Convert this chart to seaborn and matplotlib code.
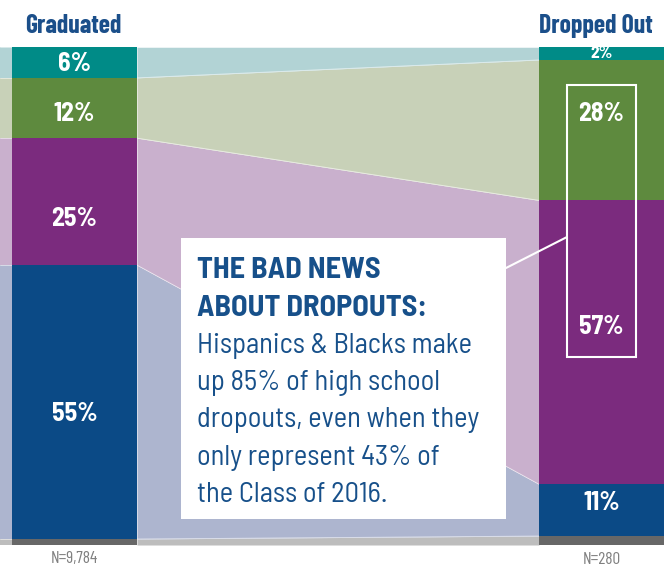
import matplotlib
matplotlib.use("Agg")
import matplotlib.pyplot as plt
from matplotlib.patches import Rectangle
import numpy as np
import seaborn as sns

# data: share of each group, bottom to top (Other, Blue, Purple, Green, Teal)
groups = ["Graduated", "Dropped Out"]
counts = ["N=9,784", "N=280"]
graduated = [1.2, 55.0, 25.5, 12.1, 6.2]
dropped = [1.8, 10.4, 57.0, 28.2, 2.6]
grad_labels = ["", "55%", "25%", "12%", "6%"]
drop_labels = ["", "11%", "57%", "28%", "2%"]

bar_colors = ["#676767", "#0b4a86", "#7b2b7e", "#5e8a3e", "#008b87"]
band_colors = ["#bdbdbd", "#adb5cf", "#c9b0cd", "#c8d1b8", "#b2d3d5"]

# label heights (percent of stack), hand-placed like the original
grad_label_y = [0, 26.3, 65.5, 86.5, 96.6]
drop_label_y = [0, 8.4, 43.8, 86.5, 98.6]

W, H = 669, 571
bar_w = 125 / 527

sns.set_style("white")
plt.rcParams["font.family"] = ["Barlow Semi Condensed", "DejaVu Sans"]

fig = plt.figure(figsize=(W / 100, H / 100), dpi=100)
ax = fig.add_axes([0, 0, 1, 1])

cum_g = np.cumsum(graduated)
cum_d = np.cumsum(dropped)

# stacked bars: draw cumulative totals from the top layer down
for i in range(len(graduated) - 1, -1, -1):
    sns.barplot(x=groups, y=[cum_g[i], cum_d[i]], color=bar_colors[i],
                width=bar_w, saturation=1, linewidth=0, order=groups,
                ax=ax, zorder=3)

# connecting bands
xl, xr = bar_w / 2, 1 - bar_w / 2
x0 = -74.5 / 527
x1 = (W - 74.5) / 527
lo_g = np.concatenate([[0], cum_g[:-1]])
lo_d = np.concatenate([[0], cum_d[:-1]])
for i in range(len(graduated)):
    ax.fill_between([xl, xr], [lo_g[i], lo_d[i]], [cum_g[i], cum_d[i]],
                    color=band_colors[i], linewidth=0, zorder=1)
    ax.fill_between([x0, -xl], [lo_g[i]] * 2, [cum_g[i]] * 2,
                    color=band_colors[i], linewidth=0, zorder=1)
    ax.plot([x0, -xl], [cum_g[i]] * 2, color="white", lw=0.6, alpha=0.6, zorder=2)
    ax.plot([xl, xr], [cum_g[i], cum_d[i]], color="white", lw=0.6, alpha=0.6, zorder=2)

# percent labels
for lab, y in zip(grad_labels, grad_label_y):
    if lab:
        ax.text(0, y, lab, color="white", fontsize=18.5, fontweight="bold",
                ha="center", va="center", zorder=4)
for lab, y in zip(drop_labels, drop_label_y):
    if lab:
        fs = 12.5 if lab == "2%" else 18.5
        ax.text(1, y, lab, color="white", fontsize=fs, fontweight="bold",
                ha="center", va="center", zorder=4)

ax.set_xlim(x0, x1)
ax.set_ylim(-(H - 545) / 4.98, 100 + 47 / 4.98)
ax.axis("off")


def px(x, y):
    return x / W, 1 - y / H


# headers and counts
for xc, g in zip([-0.003, 0.99], groups):
    ax.text(xc, 100 + 21 / 4.98, g, color="#1b4f8a", fontsize=18.5, fontweight="bold",
            ha="center", va="center", family=["Barlow Condensed", "DejaVu Sans"])
for xc, n in zip([0, 1], counts):
    ax.text(xc, -14 / 4.98, n, color="#808080", fontsize=12.5,
            ha="center", va="center", family=["Barlow Condensed", "DejaVu Sans"])

# callout box
bx0, by0, bx1, by1 = 181, 238, 506, 519
ax.add_patch(Rectangle(px(bx0, by1), (bx1 - bx0) / W, (by1 - by0) / H,
                       transform=ax.transAxes, facecolor="white", edgecolor="none", zorder=5))
ax.add_patch(Rectangle(px(567, 357), (636 - 567) / W, (357 - 85) / H,
                       transform=ax.transAxes, facecolor="none", edgecolor="white",
                       lw=1.5, zorder=5))
ax.plot([506 / W, 567 / W], [1 - 268 / H, 1 - 237 / H], color="white", lw=1.5,
        transform=ax.transAxes, zorder=5)

title_lines = ["THE BAD NEWS", "ABOUT DROPOUTS:"]
body_lines = ["Hispanics & Blacks make", "up 85% of high school",
              "dropouts, even when they", "only represent 43% of",
              "the Class of 2016."]
for txt, yb in zip(title_lines, [278, 316]):
    ax.text(*px(197, yb), txt, transform=ax.transAxes, color="#17508a",
            fontsize=21.8, fontweight="bold", ha="left", va="baseline", zorder=6)
for txt, yb in zip(body_lines, [353, 390, 427, 465, 502]):
    ax.text(*px(197, yb), txt, transform=ax.transAxes, color="#17508a",
            fontsize=20.5, ha="left", va="baseline", zorder=6)

fig.savefig("out.png", dpi=100)
